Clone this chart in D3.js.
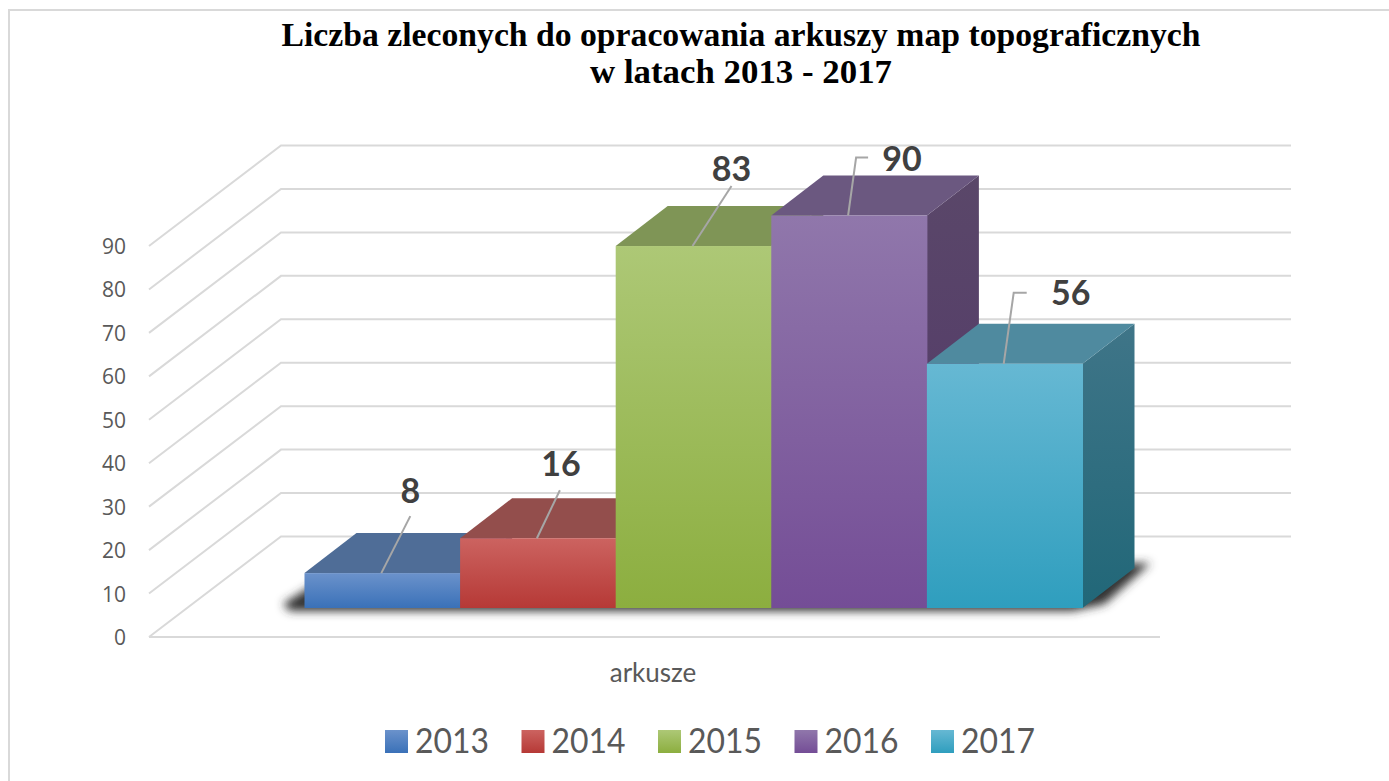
<!DOCTYPE html>
<html lang="pl">
<head>
<meta charset="utf-8">
<title>Liczba zleconych arkuszy</title>
<script src="https://d3js.org/d3.v7.min.js"></script>
<style>
  html, body { margin: 0; padding: 0; background: #fff; }
  svg { display: block; }
  .title { font: bold 33px "Liberation Serif", serif; fill: #000; text-anchor: middle; }
  .tick-label { font: 21px "Open Sans", sans-serif; fill: #595959; text-anchor: end; }
  .value-label { font: bold 34px Lato, sans-serif; fill: #404040; text-anchor: middle; }
  .cat-label { font: 26px Lato, sans-serif; fill: #595959; text-anchor: middle; }
  .legend-label { font: 35px Lato, sans-serif; fill: #595959; }
</style>
</head>
<body>
<div id="chart"></div>
<script>
"use strict"

var years = ["2013", "2014", "2015", "2016", "2017"];
var values = [8, 16, 83, 90, 56];
var axisTicks = [0, 10, 20, 30, 40, 50, 60, 70, 80, 90];
var titleLines = ["Liczba zleconych do opracowania arkuszy map topograficznych", "w latach 2013 - 2017"];
var titleWidths = [919, 302];
var category = "arkusze";

// kolory: gora i dol przedniej sciany, wierzch, bok
var frontTop = ["#6b92cb", "#cc6360", "#adc876", "#9077ab", "#66b8d3"];
var frontBottom = ["#3a71b8", "#b63936", "#8cae3f", "#744d96", "#2f9ebe"];
var topColors = ["#4f6d97", "#934e4c", "#7f9556", "#6b5880", "#4f8a9f"];
var sideTop = ["#3e5a80", "#7d3f3d", "#6a7f45", "#5a4769", "#3f7588"];
var sideBottom = ["#2a5486", "#802826", "#637b2c", "#52376a", "#216778"];

var width = 1389, height = 781;
var depth = {x: 52, y: -40};     // przesuniecie sciany tylnej bryl
var wall = {x: 132, y: -100.5};  // przesuniecie tylnej sciany wykresu

var svg = d3.select("#chart").append("svg")
  .attr("width", width)
  .attr("height", height);

var defs = svg.append("defs");

defs.append("filter")
  .attr("id", "blur")
  .attr("x", "-10%").attr("y", "-30%")
  .attr("width", "120%").attr("height", "160%")
  .append("feGaussianBlur")
  .attr("stdDeviation", 5);

function gradient(id, c1, c2) {
  var g = defs.append("linearGradient")
    .attr("id", id)
    .attr("x1", 0).attr("y1", 0)
    .attr("x2", 0).attr("y2", 1);
  g.append("stop").attr("offset", "0%").attr("stop-color", c1);
  g.append("stop").attr("offset", "100%").attr("stop-color", c2);
}

years.forEach(function(y, i) {
  gradient("front" + i, frontTop[i], frontBottom[i]);
  gradient("side" + i, sideTop[i], sideBottom[i]);
});

// skale: os na przedniej krawedzi podlogi, slupki nieco glebiej
var yAxis = d3.scaleLinear().domain([0, 90]).range([637, 246]);
var yBar = d3.scaleLinear().domain([0, 90]).range([608, 215.5]);
var x = d3.scaleBand().domain(years).range([304.5, 1082.5]);

// ramka
svg.append("rect")
  .attr("x", 9).attr("y", 10)
  .attr("width", 1400).attr("height", 800)
  .attr("fill", "none")
  .attr("stroke", "#d9d9d9")
  .attr("stroke-width", 2);

// tytul
svg.selectAll(".title")
  .data(titleLines)
  .enter().append("text")
  .attr("class", "title")
  .attr("x", 741)
  .attr("y", (d, i) => 46 + i * 37)
  .attr("textLength", (d, i) => titleWidths[i])
  .attr("lengthAdjust", "spacingAndGlyphs")
  .text(d => d);

// siatka: lamana z przedniej krawedzi na tylna sciane
var grid = d3.line();
svg.append("g").selectAll("path")
  .data(axisTicks)
  .enter().append("path")
  .attr("fill", "none")
  .attr("stroke", "#d9d9d9")
  .attr("stroke-width", 2)
  .attr("d", function(t) {
    var y0 = yAxis(t);
    return grid([[149, y0], [149 + wall.x, y0 + wall.y], [1291, y0 + wall.y]]);
  });

// przednia krawedz podlogi
svg.append("path")
  .attr("fill", "none")
  .attr("stroke", "#d9d9d9")
  .attr("stroke-width", 2)
  .attr("d", grid([[149, yAxis(0)], [1160, yAxis(0)]]));

// etykiety osi
svg.append("g").selectAll("text")
  .data(axisTicks)
  .enter().append("text")
  .attr("class", "tick-label")
  .attr("x", 126)
  .attr("y", d => yAxis(d) + 8)
  .text(d => d);

// cien na podlodze
var x0 = x(years[0]);
var x1 = x(years[years.length - 1]) + x.bandwidth();
svg.append("path")
  .attr("fill", "#333")
  .attr("filter", "url(#blur)")
  .attr("d", grid([[283, 604], [x0 + 20, 578], [x1 + 68, 563], [x1 + 22, 604], [x1 - 10, 611], [290, 611]]) + "Z");

// slupki od tylu do przodu, zeby sciany sie dobrze przykrywaly
var bars = svg.append("g").selectAll("g")
  .data(years)
  .enter().append("g");

bars.append("path")
  .attr("fill", (d, i) => "url(#side" + i + ")")
  .attr("d", function(d, i) {
    var r = x(d) + x.bandwidth(), t = yBar(values[i]), b = yBar(0);
    return grid([[r, t], [r + depth.x, t + depth.y], [r + depth.x, b + depth.y], [r, b]]) + "Z";
  });

bars.append("path")
  .attr("fill", (d, i) => topColors[i])
  .attr("d", function(d, i) {
    var l = x(d), r = l + x.bandwidth(), t = yBar(values[i]);
    return grid([[l, t], [l + depth.x, t + depth.y], [r + depth.x, t + depth.y], [r, t]]) + "Z";
  });

bars.append("rect")
  .attr("x", d => x(d))
  .attr("y", (d, i) => yBar(values[i]))
  .attr("width", x.bandwidth() + 0.5)
  .attr("height", (d, i) => yBar(0) - yBar(values[i]))
  .attr("fill", (d, i) => "url(#front" + i + ")");

// linie odniesienia: przesuniecie konca i polozenie etykiety wzgledem srodka slupka
var leaderDx = [29, 23, 39, 8, 10];
var leaderDy = [-57, -48, -60, -58, -71];
var elbow = [0, 0, 0, 12, 13];
var labelDx = [29, 24, 39, 54, 67];
var labelBase = [503, 476, 181, 171, 305];

var leaders = svg.append("g");
years.forEach(function(d, i) {
  var cx = x(d) + x.bandwidth() / 2 - 1, t = yBar(values[i]);
  var pts = [[cx, t], [cx + leaderDx[i], t + leaderDy[i]]];
  if (elbow[i]) pts.push([cx + leaderDx[i] + elbow[i], t + leaderDy[i]]);
  leaders.append("path")
    .attr("fill", "none")
    .attr("stroke", "#a6a6a6")
    .attr("stroke-width", 2)
    .attr("d", grid(pts));
  svg.append("text")
    .attr("class", "value-label")
    .attr("x", cx + labelDx[i])
    .attr("y", labelBase[i])
    .text(values[i]);
});

// kategoria
svg.append("text")
  .attr("class", "cat-label")
  .attr("x", 653)
  .attr("y", 682)
  .text(category);

// legenda
var legend = d3.scaleBand().domain(years).range([385, 1067.5]);
var items = svg.append("g").selectAll("g")
  .data(years)
  .enter().append("g")
  .attr("transform", d => "translate(" + legend(d) + ",0)");

items.append("rect")
  .attr("y", 730)
  .attr("width", 23)
  .attr("height", 23)
  .attr("fill", (d, i) => "url(#front" + i + ")");

items.append("text")
  .attr("class", "legend-label")
  .attr("x", 30)
  .attr("y", 753)
  .attr("textLength", 74)
  .attr("lengthAdjust", "spacingAndGlyphs")
  .text(d => d);
</script>
</body>
</html>
